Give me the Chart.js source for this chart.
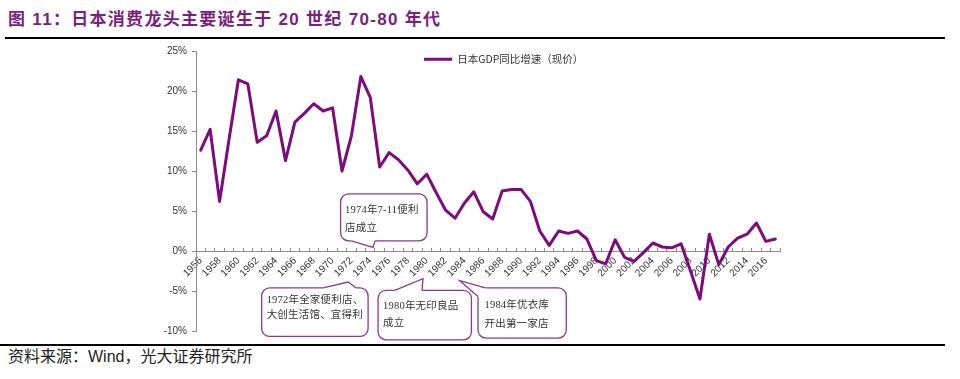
<!DOCTYPE html>
<html><head><meta charset="utf-8">
<script src="https://cdn.jsdelivr.net/npm/chart.js@4.4.1/dist/chart.umd.min.js"></script>
<style>
html,body{margin:0;padding:0;background:#fff;width:960px;height:379px;overflow:hidden;}
#title{position:absolute;left:8px;top:8px;font:bold 17px "Liberation Sans","Noto Sans CJK SC",sans-serif;color:#7a1f7d;letter-spacing:1.3px;white-space:nowrap;line-height:24px;}
#tl{position:absolute;left:5px;top:37px;width:940px;height:2px;background:#000;}
#bl{position:absolute;left:0;top:344px;width:945px;height:1.5px;background:#000;}
#src{position:absolute;left:8px;top:346px;font:16px "Liberation Sans","Noto Sans CJK SC",sans-serif;color:#222;white-space:nowrap;line-height:22px;}
#wrap{position:absolute;left:0;top:40px;width:960px;height:302px;}
</style></head>
<body>
<div id="title">图 11：日本消费龙头主要诞生于 20 世纪 70-80 年代</div>
<div id="tl"></div>
<div id="wrap"><canvas id="c" width="960" height="302"></canvas></div>
<div id="bl"></div>
<div id="src">资料来源：Wind，光大证券研究所</div>
<script>
const years = ['1956','1957','1958','1959','1960','1961','1962','1963','1964','1965','1966','1967','1968','1969','1970','1971','1972','1973','1974','1975','1976','1977','1978','1979','1980','1981','1982','1983','1984','1985','1986','1987','1988','1989','1990','1991','1992','1993','1994','1995','1996','1997','1998','1999','2000','2001','2002','2003','2004','2005','2006','2007','2008','2009','2010','2011','2012','2013','2014','2015','2016','2017'];
const gdpGrowth = [12.6,15.2,6.2,13.9,21.4,20.9,13.6,14.4,17.5,11.3,16.1,17.2,18.4,17.5,17.9,10.0,14.4,21.8,19.2,10.5,12.3,11.4,10.1,8.4,9.6,7.3,5.1,4.1,6.0,7.4,4.9,4.0,7.5,7.7,7.7,6.2,2.5,0.7,2.5,2.2,2.5,1.5,-1.2,-1.6,1.4,-0.8,-1.3,-0.2,1.0,0.5,0.4,0.9,-2.5,-6.0,2.1,-1.7,0.5,1.6,2.1,3.5,1.2,1.5];
const yTicks = [-10,-5,0,5,10,15,20,25];
const seriesName = '日本GDP同比增速（现价）';
const noteTexts = [
  ['1974年7-11便利','店成立'],
  ['1972年全家便利店、','大创生活馆、宜得利'],
  ['1980年无印良品','成立'],
  ['1984年优衣库','开出第一家店']
];

const LINE = '#7d0b7d';
const AXIS = '#8c8c8c';
const NOTE = '#8a3a8c';

// callout layout: box [xIndex0, yVal0, xIndex1, yVal1], tail [base1, tip, base2], text offsets in px
const noteLayout = [
  {box:[14.85,7.14,24.03,1.27], tail:[[16.0,1.27],[18.3,0.45],[18.5,1.27]], tx:4.5, ty:[16,34]},
  {box:[6.47,-4.62,17.77,-10.68], tail:[[13.0,-4.62],[15.65,-3.88],[16.5,-4.62]], tx:5, ty:[12,27]},
  {box:[18.83,-4.91,28.74,-11.1], tail:[[20.6,-4.91],[23.6,-3.47],[23.5,-4.91]], tx:5, ty:[16,33]},
  {box:[29.44,-4.62,38.81,-10.89], tail:[[30.2,-4.62],[27.5,-3.71],[29.44,-5.7]], tx:6.5, ty:[17,36]}
];

function rr(ctx,x,y,w,h,r){
  ctx.beginPath();
  ctx.moveTo(x+r,y);
  ctx.arcTo(x+w,y,x+w,y+h,r);
  ctx.arcTo(x+w,y+h,x,y+h,r);
  ctx.arcTo(x,y+h,x,y,r);
  ctx.arcTo(x,y,x+w,y,r);
  ctx.closePath();
}

const notesPlugin = {
  id:'notes',
  afterUpdate(chart){
    const lg = chart.legend;
    if (lg) { lg.left = chart.chartArea.left + 214; lg.right = chart.chartArea.right; }
  },
  afterDraw(chart){
    const ctx = chart.ctx, xs = chart.scales.x, ys = chart.scales.y;
    const X = i => xs.getPixelForValue(i), Y = v => ys.getPixelForValue(v);
    noteLayout.forEach((L, k) => {
      const x0=X(L.box[0]), y0=Y(L.box[1]), x1=X(L.box[2]), y1=Y(L.box[3]);
      ctx.save();
      ctx.fillStyle='#fff'; ctx.strokeStyle=NOTE; ctx.lineWidth=1.3;
      rr(ctx,x0,y0,x1-x0,y1-y0,8); ctx.fill(); ctx.stroke();
      const p = L.tail.map(([i,v]) => [X(i),Y(v)]);
      ctx.beginPath(); ctx.moveTo(p[0][0],p[0][1]); ctx.lineTo(p[1][0],p[1][1]); ctx.lineTo(p[2][0],p[2][1]); ctx.closePath(); ctx.fill();
      ctx.beginPath(); ctx.moveTo(p[0][0],p[0][1]); ctx.lineTo(p[2][0],p[2][1]); ctx.strokeStyle='#fff'; ctx.lineWidth=2.6; ctx.stroke();
      ctx.beginPath(); ctx.moveTo(p[0][0],p[0][1]); ctx.lineTo(p[1][0],p[1][1]); ctx.lineTo(p[2][0],p[2][1]); ctx.strokeStyle=NOTE; ctx.lineWidth=1.3; ctx.stroke();
      ctx.fillStyle='#333';
      ctx.font='10.5px "Liberation Serif","Noto Sans CJK SC",serif';
      ctx.textBaseline='middle'; ctx.textAlign='left';
      try { ctx.letterSpacing='0.2px'; } catch(e){}
      noteTexts[k].forEach((t,j) => ctx.fillText(t, x0 + L.tx, y0 + L.ty[j]));
      ctx.restore();
    });
  }
};

new Chart(document.getElementById('c'), {
  type:'line',
  data:{
    labels: years,
    datasets:[{
      label: seriesName,
      data: gdpGrowth,
      borderColor: LINE,
      backgroundColor: LINE,
      borderWidth: 3,
      pointRadius: 0,
      tension: 0,
      borderJoinStyle: 'round',
      borderCapStyle: 'round'
    }]
  },
  options:{
    responsive:false,
    animation:false,
    devicePixelRatio:1,
    layout:{padding:{left:146,right:180,top:10,bottom:9}},
    plugins:{
      tooltip:{enabled:false},
      legend:{
        position:'chartArea',
        align:'start',
        labels:{
          boxWidth:28, boxHeight:3, padding:14, color:'#333',
          font:{size:10.5, family:'"Noto Sans CJK SC","Liberation Sans",sans-serif'},
          generateLabels(chart){
            const items = Chart.defaults.plugins.legend.labels.generateLabels(chart);
            items.forEach(it => { it.lineWidth = 0; it.fillStyle = LINE; it.strokeStyle = LINE; });
            return items;
          }
        }
      }
    },
    scales:{
      x:{
        type:'category',
        offset:true,
        position:{y:0},
        grid:{display:true, drawOnChartArea:false, drawTicks:true, tickLength:-4, offset:true, color:AXIS, lineWidth:1},
        border:{display:true, color:AXIS, width:1},
        ticks:{
          autoSkip:false, maxRotation:45, minRotation:45, padding:8, color:'#333',
          font:{size:10, family:'"Liberation Sans",Arial,sans-serif'},
          callback(v,i){ return i % 2 === 0 ? this.getLabelForValue(v) : ''; }
        }
      },
      y:{
        min:-10, max:25,
        afterBuildTicks(s){ s.ticks = yTicks.map(v => ({value:v})); },
        afterFit(s){ s.width = 50; },
        grid:{display:true, drawOnChartArea:false, drawTicks:true, tickLength:4, color:AXIS},
        border:{display:true, color:AXIS, width:1},
        ticks:{padding:5, color:'#333', font:{size:10, family:'"Liberation Sans",Arial,sans-serif'}, callback: v => v + '%'}
      }
    }
  },
  plugins:[notesPlugin]
});
</script>
</body></html>
